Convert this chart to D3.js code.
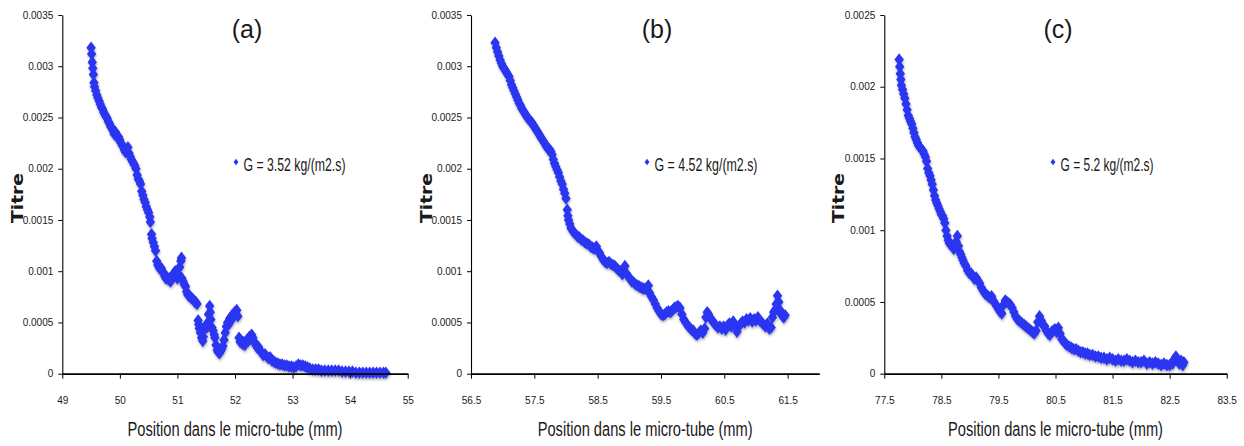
<!DOCTYPE html>
<html>
<head>
<script src="https://d3js.org/d3.v7.min.js"></script>
<style>
  body {margin: 0; background: #fff;}
  svg text {font-family: "Liberation Sans Narrow", "Arial Narrow", "Liberation Sans", sans-serif; fill: #1a1a1a;}
  .axis line, .axis path {stroke: #000;}
</style>
</head>
<body>
<div id="chart"></div>
<script>
// values
var xA = [49.50,49.51,49.52,49.53,49.54,49.55,49.56,49.58,49.60,49.62,49.64,49.66,49.68,49.70,49.72,49.74,49.76,49.78,49.80,49.82,
  49.84,49.86,49.88,49.90,49.92,49.94,49.96,49.98,50.00,50.02,50.04,50.06,50.08,50.10,50.12,50.14,50.16,50.18,50.20,50.22,
  50.24,50.26,50.28,50.30,50.32,50.34,50.36,50.38,50.40,50.42,50.44,50.46,50.48,50.50,50.52,50.53,50.55,50.56,50.58,50.60,
  50.62,50.64,50.66,50.68,50.70,50.72,50.74,50.76,50.78,50.80,50.82,50.84,50.86,50.88,50.90,50.92,50.94,50.96,50.98,51.00,
  51.02,51.04,51.06,51.07,51.08,51.10,51.12,51.14,51.16,51.18,51.20,51.22,51.24,51.26,51.28,51.30,51.32,51.34,51.36,51.37,
  51.38,51.40,51.42,51.44,51.45,51.47,51.49,51.51,51.53,51.54,51.56,51.57,51.58,51.60,51.62,51.64,51.65,51.67,51.69,51.71,
  51.73,51.75,51.77,51.79,51.81,51.83,51.85,51.87,51.89,51.91,51.93,51.95,51.97,51.99,52.01,52.03,52.05,52.07,52.09,52.11,
  52.13,52.15,52.17,52.19,52.21,52.23,52.25,52.27,52.29,52.31,52.33,52.35,52.37,52.39,52.41,52.43,52.46,52.49,52.52,52.55,
  52.58,52.61,52.64,52.67,52.70,52.74,52.78,52.82,52.86,52.90,52.94,52.98,53.02,53.06,53.10,53.14,53.18,53.22,53.26,53.30,
  53.35,53.40,53.45,53.50,53.56,53.62,53.68,53.74,53.80,53.86,53.92,53.98,54.04,54.10,54.16,54.22,54.28,54.34,54.40,54.46,
  54.52,54.58,54.62];
var yA = [0.00318,0.00312,0.00304,0.00298,0.00292,0.00284,0.00280,0.00276,0.00272,0.00269,0.00266,0.00263,0.00260,0.00258,0.00255,0.00253,0.00251,0.00249,0.00246,0.00244,
  0.00241,0.00240,0.00237,0.00234,0.00236,0.00232,0.00230,0.00231,0.00228,0.00225,0.00223,0.00221,0.00218,0.00216,0.00218,0.00221,0.00215,0.00212,0.00209,0.00207,
  0.00205,0.00203,0.00200,0.00194,0.00190,0.00188,0.00185,0.00178,0.00174,0.00170,0.00167,0.00163,0.00160,0.00157,0.00153,0.00148,0.00136,0.00132,0.00128,0.00124,
  0.00120,0.00110,0.00106,0.00104,0.00102,0.00103,0.00100,0.00098,0.00095,0.00093,0.00094,0.00092,0.00093,0.00090,0.00093,0.00096,0.00098,0.00100,0.00095,0.00093,
  0.00097,0.00104,0.00110,0.00113,0.00093,0.00090,0.00087,0.00085,0.00080,0.00077,0.00076,0.00075,0.00074,0.00073,0.00072,0.00070,0.00070,0.00068,0.00052,0.00048,
  0.00044,0.00040,0.00035,0.00032,0.00036,0.00044,0.00047,0.00045,0.00050,0.00058,0.00066,0.00060,0.00053,0.00045,0.00042,0.00038,0.00035,0.00028,0.00023,0.00021,
  0.00020,0.00022,0.00024,0.00027,0.00033,0.00040,0.00046,0.00050,0.00048,0.00054,0.00052,0.00057,0.00055,0.00060,0.00058,0.00062,0.00056,0.00035,0.00031,0.00032,
  0.00029,0.00031,0.00028,0.00030,0.00033,0.00032,0.00036,0.00034,0.00038,0.00035,0.00031,0.00030,0.00027,0.00025,0.00026,0.00023,0.00021,0.00018,0.00019,0.00017,
  0.00015,0.00016,0.00013,0.00012,0.00011,0.00010,0.00009,0.00009,0.00008,0.00008,0.00007,0.00007,0.00006,0.00007,0.00009,0.00008,0.00008,0.00007,0.00006,0.00005,
  0.00004,0.00004,0.00004,0.00003,0.00003,0.00003,0.00003,0.00003,0.00003,0.00002,0.00002,0.00002,0.00002,0.00001,0.00001,0.00001,0.00001,0.00001,0.00001,0.00001,
  0.00001,0.00001,0.00001];

var xB = [56.88,56.90,56.92,56.94,56.96,56.98,57.00,57.02,57.04,57.06,57.08,57.10,57.12,57.14,57.16,57.18,57.20,57.22,57.24,57.26,
  57.28,57.30,57.32,57.34,57.36,57.38,57.40,57.42,57.44,57.46,57.48,57.50,57.52,57.54,57.56,57.58,57.60,57.62,57.64,57.66,
  57.68,57.70,57.72,57.74,57.76,57.78,57.80,57.82,57.84,57.86,57.88,57.90,57.92,57.94,57.96,57.98,58.00,58.02,58.03,58.04,
  58.06,58.08,58.10,58.12,58.15,58.18,58.21,58.24,58.27,58.30,58.33,58.36,58.39,58.42,58.45,58.48,58.50,58.53,58.56,58.59,
  58.62,58.65,58.68,58.71,58.74,58.77,58.80,58.83,58.86,58.89,58.91,58.93,58.95,58.98,59.01,59.04,59.07,59.10,59.13,59.16,
  59.19,59.22,59.25,59.28,59.30,59.32,59.35,59.38,59.41,59.44,59.47,59.50,59.53,59.56,59.59,59.62,59.65,59.68,59.71,59.74,
  59.77,59.80,59.83,59.86,59.89,59.92,59.95,59.98,60.01,60.04,60.07,60.10,60.13,60.16,60.19,60.21,60.23,60.25,60.28,60.31,
  60.34,60.37,60.40,60.43,60.46,60.49,60.52,60.55,60.58,60.61,60.64,60.67,60.70,60.73,60.76,60.79,60.82,60.85,60.88,60.91,
  60.94,60.97,61.00,61.03,61.06,61.09,61.12,61.15,61.18,61.21,61.24,61.26,61.28,61.30,61.32,61.34,61.36,61.38,61.40,61.42,
  61.44,61.46];
var yB = [0.00323,0.00318,0.00314,0.00310,0.00306,0.00303,0.00300,0.00298,0.00296,0.00294,0.00292,0.00290,0.00286,0.00282,0.00279,0.00276,0.00273,0.00270,0.00267,0.00264,
  0.00262,0.00259,0.00257,0.00255,0.00253,0.00251,0.00249,0.00248,0.00246,0.00245,0.00243,0.00241,0.00239,0.00237,0.00235,0.00233,0.00231,0.00229,0.00227,0.00225,
  0.00223,0.00221,0.00219,0.00219,0.00217,0.00214,0.00209,0.00205,0.00202,0.00199,0.00196,0.00192,0.00188,0.00185,0.00180,0.00176,0.00171,0.00160,0.00154,0.00150,
  0.00146,0.00142,0.00140,0.00138,0.00136,0.00134,0.00133,0.00131,0.00130,0.00128,0.00127,0.00126,0.00124,0.00123,0.00122,0.00124,0.00120,0.00118,0.00114,0.00111,
  0.00109,0.00108,0.00109,0.00107,0.00106,0.00105,0.00103,0.00101,0.00100,0.00097,0.00102,0.00105,0.00098,0.00095,0.00093,0.00090,0.00089,0.00087,0.00086,0.00085,
  0.00084,0.00083,0.00083,0.00082,0.00086,0.00079,0.00075,0.00072,0.00068,0.00064,0.00061,0.00058,0.00057,0.00058,0.00060,0.00061,0.00060,0.00062,0.00064,0.00065,
  0.00066,0.00064,0.00058,0.00053,0.00050,0.00047,0.00045,0.00043,0.00042,0.00039,0.00038,0.00040,0.00042,0.00040,0.00044,0.00055,0.00060,0.00058,0.00054,0.00052,
  0.00049,0.00047,0.00045,0.00046,0.00044,0.00046,0.00043,0.00047,0.00049,0.00046,0.00051,0.00047,0.00041,0.00046,0.00049,0.00051,0.00050,0.00053,0.00052,0.00054,
  0.00051,0.00053,0.00052,0.00055,0.00052,0.00050,0.00048,0.00046,0.00049,0.00044,0.00045,0.00055,0.00060,0.00062,0.00068,0.00076,0.00070,0.00062,0.00058,0.00056,
  0.00055,0.00057];

var xC = [77.76,77.77,77.78,77.79,77.80,77.82,77.84,77.86,77.88,77.90,77.92,77.94,77.96,77.98,78.00,78.02,78.04,78.06,78.08,78.10,
  78.12,78.14,78.16,78.18,78.20,78.22,78.24,78.26,78.28,78.30,78.32,78.34,78.36,78.38,78.40,78.42,78.44,78.46,78.48,78.50,
  78.52,78.54,78.56,78.58,78.60,78.62,78.64,78.66,78.68,78.70,78.72,78.74,78.76,78.78,78.80,78.82,78.84,78.86,78.88,78.90,
  78.93,78.96,78.99,79.02,79.05,79.08,79.11,79.14,79.17,79.20,79.23,79.26,79.29,79.32,79.35,79.38,79.41,79.44,79.47,79.50,
  79.53,79.56,79.59,79.62,79.65,79.68,79.71,79.74,79.77,79.80,79.83,79.86,79.89,79.92,79.95,79.98,80.01,80.04,80.07,80.10,
  80.13,80.16,80.19,80.22,80.25,80.28,80.31,80.34,80.37,80.40,80.43,80.46,80.49,80.52,80.55,80.58,80.61,80.64,80.67,80.70,
  80.74,80.78,80.82,80.86,80.90,80.94,80.98,81.02,81.06,81.10,81.15,81.20,81.25,81.30,81.35,81.40,81.45,81.50,81.55,81.60,
  81.65,81.70,81.75,81.80,81.85,81.90,81.95,82.00,82.05,82.10,82.15,82.20,82.25,82.30,82.35,82.40,82.45,82.50,82.55,82.58,
  82.61,82.64,82.67,82.70,82.73,82.75];
var yC = [0.00219,0.00214,0.00209,0.00205,0.00201,0.00198,0.00195,0.00192,0.00188,0.00184,0.00180,0.00178,0.00176,0.00174,0.00171,0.00168,0.00165,0.00163,0.00161,0.00159,
  0.00158,0.00157,0.00156,0.00155,0.00153,0.00151,0.00148,0.00143,0.00140,0.00138,0.00135,0.00132,0.00128,0.00124,0.00121,0.00119,0.00117,0.00115,0.00113,0.00111,
  0.00110,0.00108,0.00105,0.00100,0.00096,0.00093,0.00091,0.00090,0.00089,0.00088,0.00087,0.00090,0.00092,0.00096,0.00089,0.00085,0.00083,0.00081,0.00079,0.00077,
  0.00075,0.00072,0.00070,0.00070,0.00068,0.00066,0.00067,0.00065,0.00063,0.00060,0.00058,0.00056,0.00055,0.00054,0.00053,0.00054,0.00051,0.00049,0.00047,0.00045,
  0.00043,0.00042,0.00048,0.00051,0.00050,0.00049,0.00048,0.00046,0.00043,0.00040,0.00038,0.00037,0.00036,0.00035,0.00034,0.00033,0.00032,0.00031,0.00030,0.00029,
  0.00028,0.00030,0.00036,0.00040,0.00037,0.00034,0.00033,0.00030,0.00028,0.00027,0.00029,0.00030,0.00031,0.00029,0.00032,0.00028,0.00024,0.00023,0.00021,0.00020,
  0.00019,0.00018,0.00017,0.00017,0.00016,0.00015,0.00015,0.00014,0.00014,0.00013,0.00013,0.00012,0.00012,0.00011,0.00011,0.00010,0.00011,0.00010,0.00009,0.00010,
  0.00009,0.00009,0.00010,0.00009,0.00008,0.00009,0.00008,0.00008,0.00009,0.00007,0.00008,0.00007,0.00008,0.00007,0.00006,0.00007,0.00006,0.00006,0.00007,0.00010,
  0.00012,0.00009,0.00007,0.00009,0.00006,0.00008];

var xTicksA = [49, 50, 51, 52, 53, 54, 55];
var xTicksB = [56.5, 57.5, 58.5, 59.5, 60.5, 61.5];
var xTicksC = [77.5, 78.5, 79.5, 80.5, 81.5, 82.5, 83.5];
var yTicksAB = [0, 0.0005, 0.001, 0.0015, 0.002, 0.0025, 0.003, 0.0035];
var yTicksC = [0, 0.0005, 0.001, 0.0015, 0.002, 0.0025];
var panelNames = ["(a)", "(b)", "(c)"];
var legendNames = ["G = 3.52 kg/(m2.s)", "G = 4.52 kg/(m2.s)", "G = 5.2 kg/(m2.s)"];
var xTitle = "Position dans le micro-tube (mm)";
var yTitle = "Titre";

var W = 1244, H = 446;
var blue = "#2a36f2";

var svg = d3.select("#chart").append("svg")
  .attr("width", W)
  .attr("height", H);

var defs = svg.append("defs");
var shadow = defs.append("filter").attr("id", "shadow")
  .attr("x", "-20%").attr("y", "-20%").attr("width", "140%").attr("height", "140%");
shadow.append("feDropShadow")
  .attr("dx", 0.5).attr("dy", 1.8).attr("stdDeviation", 1.1)
  .attr("flood-color", "#777").attr("flood-opacity", 0.55);

// tall diamond, the source picture is squeezed sideways
var tallDiamond = {
  draw: function(ctx, size) {
    var h = Math.sqrt(size) * 0.6, w = h * 0.75;
    ctx.moveTo(0, -h);
    ctx.lineTo(w, 0);
    ctx.lineTo(0, h);
    ctx.lineTo(-w, 0);
    ctx.closePath();
  }
};

var panels = [
  {xs: xA, ys: yA, xDom: [49, 55], yMax: 0.0035, xTicks: xTicksA, yTicks: yTicksAB,
   left: 62.3, right: 407.7, titleX: 247, legX: 236, legW: 102, yTitleX: 18},
  {xs: xB, ys: yB, xDom: [56.5, 62], yMax: 0.0035, xTicks: xTicksB, yTicks: yTicksAB,
   left: 471, right: 819.3, titleX: 657, legX: 647, legW: 103, yTitleX: 427},
  {xs: xC, ys: yC, xDom: [77.5, 83.5], yMax: 0.0025, xTicks: xTicksC, yTicks: yTicksC,
   left: 884.3, right: 1226.7, titleX: 1058, legX: 1053, legW: 93, yTitleX: 839}
];
var plotTop = 15, plotBottom = 373.7;

panels.forEach(function(p, i) {
  var x = d3.scaleLinear().domain(p.xDom).range([p.left, p.right]);
  var y = d3.scaleLinear().domain([0, p.yMax]).range([plotBottom, plotTop]);
  var g = svg.append("g");

  // points
  g.append("g").attr("filter", "url(#shadow)")
    .selectAll("path")
    .data(d3.zip(p.xs, p.ys))
    .join("path")
    .attr("transform", function(d) { return "translate(" + x(d[0]) + "," + y(d[1]) + ")"; })
    .attr("d", d3.symbol().type(tallDiamond).size(110))
    .attr("fill", blue);

  var yAxis = g.append("g").attr("class", "axis")
    .attr("transform", "translate(" + p.left + ",0)")
    .call(d3.axisLeft(y).tickValues(p.yTicks).tickSize(4).tickSizeOuter(0).tickPadding(5)
      .tickFormat(function(d) { return String(d); }));
  yAxis.select(".domain").attr("stroke-width", 1.1);
  yAxis.selectAll("text").style("font-size", "10px").attr("fill", "#1a1a1a");

  var xAxis = g.append("g").attr("class", "axis")
    .attr("transform", "translate(0," + plotBottom + ")")
    .call(d3.axisBottom(x).tickValues(p.xTicks).tickSize(5).tickSizeOuter(0).tickPadding(18)
      .tickFormat(function(d) { return String(d); }));
  xAxis.select(".domain").attr("stroke-width", 1.8);
  xAxis.selectAll("text").style("font-size", "10px").attr("fill", "#1a1a1a");

  // panel letter
  g.append("text")
    .attr("x", p.titleX).attr("y", 38)
    .attr("text-anchor", "middle")
    .style("font-family", "'Liberation Sans', sans-serif")
    .style("font-size", "25px")
    .text(panelNames[i]);

  // legend
  g.append("path")
    .attr("transform", "translate(" + p.legX + "," + 162 + ")")
    .attr("d", d3.symbol().type(tallDiamond).size(30))
    .attr("fill", blue);
  g.append("text")
    .attr("x", p.legX + 7.5).attr("y", 171)
    .attr("textLength", p.legW).attr("lengthAdjust", "spacingAndGlyphs")
    .style("font-size", "18px")
    .text(legendNames[i]);

  // axis titles
  g.append("text")
    .attr("x", (p.left + p.right) / 2).attr("y", 436)
    .attr("text-anchor", "middle")
    .attr("textLength", 215).attr("lengthAdjust", "spacingAndGlyphs")
    .style("font-size", "20px")
    .text(xTitle);
  g.append("text")
    .attr("transform", "translate(" + (p.yTitleX + 5) + ",198) rotate(-90)")
    .attr("text-anchor", "middle")
    .attr("textLength", 50).attr("lengthAdjust", "spacingAndGlyphs")
    .style("font-family", "'DejaVu Sans', sans-serif")
    .style("font-size", "15px")
    .style("font-weight", "bold")
    .attr("fill", "#2a2a2a")
    .text(yTitle);
});
</script>
</body>
</html>
